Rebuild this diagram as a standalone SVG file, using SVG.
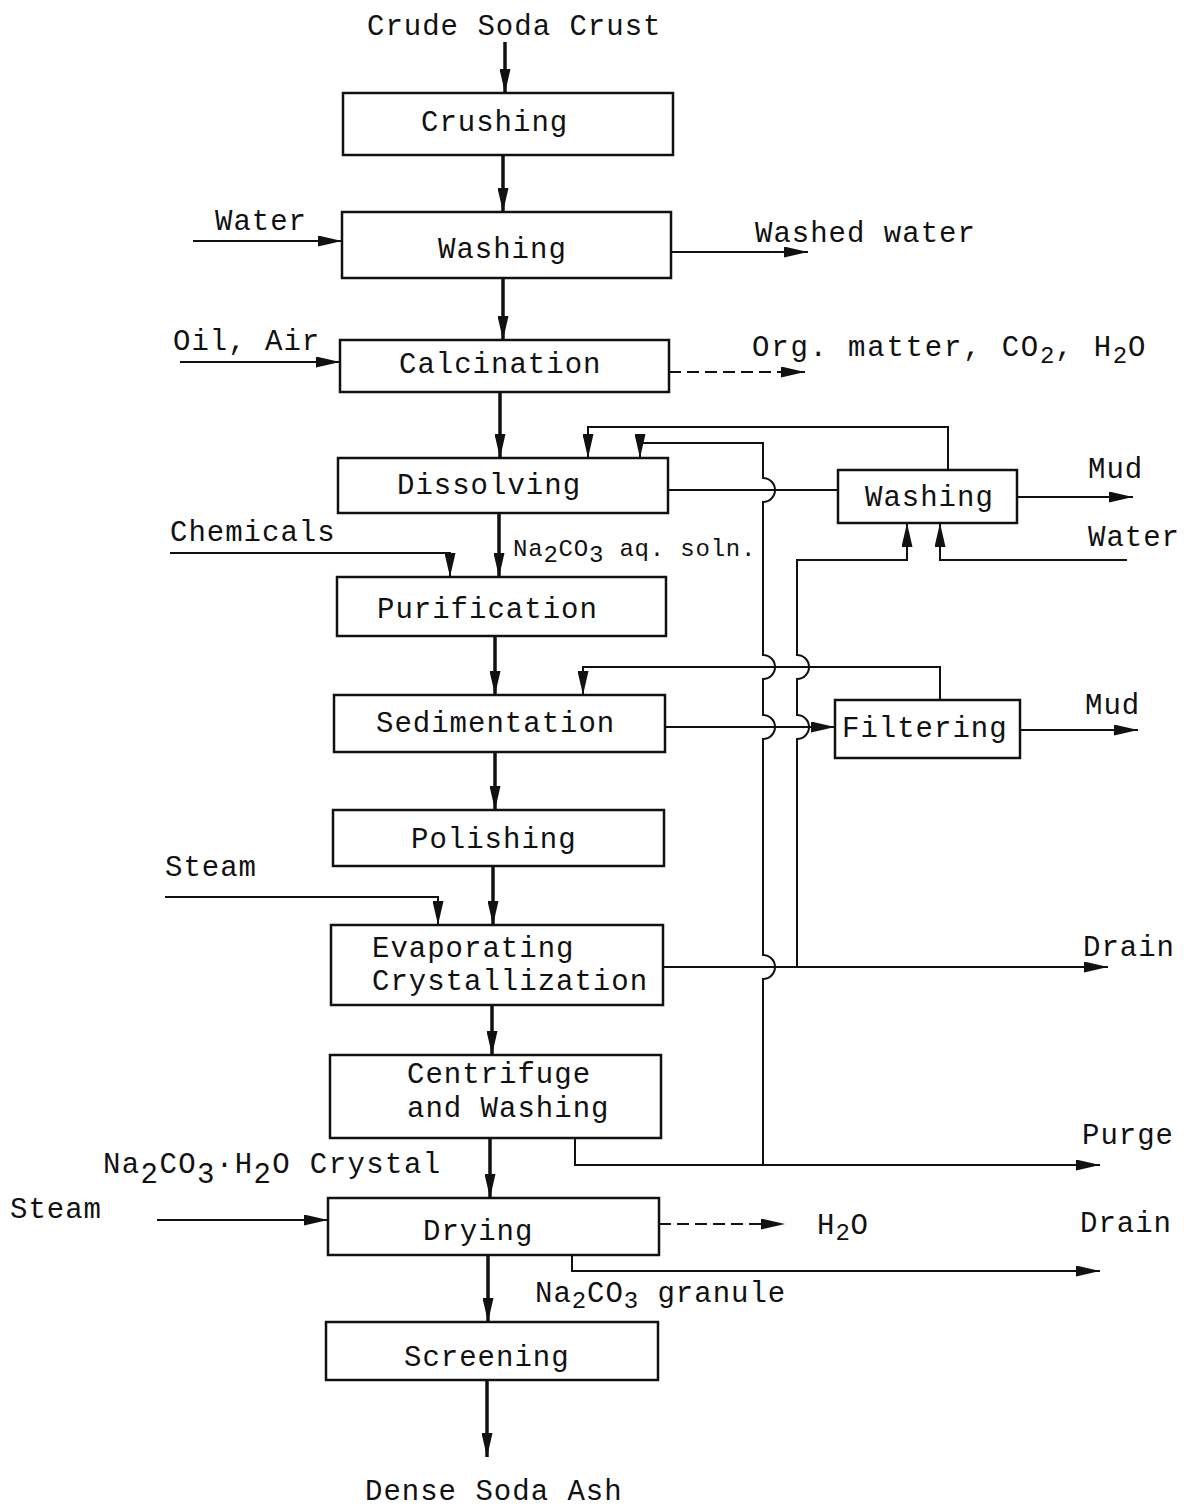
<svg xmlns="http://www.w3.org/2000/svg" width="1189" height="1507" viewBox="0 0 1189 1507">
<defs>
<style>
text{font-family:"Liberation Mono","DejaVu Sans Mono",monospace;font-size:29px;fill:#111;letter-spacing:1px}
.sm{font-size:24px;letter-spacing:0.8px}
.box{fill:#fff;stroke:#111;stroke-width:2.5}
.m{fill:none;stroke:#111;stroke-width:3.5}
.l{fill:none;stroke:#111;stroke-width:2}
.d{fill:none;stroke:#111;stroke-width:2;stroke-dasharray:12 6}
</style>
<marker id="a" viewBox="0 0 24 11" refX="24" refY="5.5" markerWidth="24" markerHeight="11" markerUnits="userSpaceOnUse" orient="auto">
<path d="M0,0 L24,5.5 L0,11 Z" fill="#111"/>
</marker>
</defs>
<rect width="1189" height="1507" fill="#fff"/>

<g id="connectors">
<!-- main flow -->
<path class="m" d="M505,42 V93" marker-end="url(#a)"/>
<path class="m" d="M503,155 V212" marker-end="url(#a)"/>
<path class="m" d="M503,278 V340" marker-end="url(#a)"/>
<path class="m" d="M500,392 V458" marker-end="url(#a)"/>
<path class="m" d="M499,513 V577" marker-end="url(#a)"/>
<path class="m" d="M495,636 V695" marker-end="url(#a)"/>
<path class="m" d="M495,752 V810" marker-end="url(#a)"/>
<path class="m" d="M493,866 V925" marker-end="url(#a)"/>
<path class="m" d="M492,1005 V1055" marker-end="url(#a)"/>
<path class="m" d="M490,1138 V1198" marker-end="url(#a)"/>
<path class="m" d="M488,1255 V1322" marker-end="url(#a)"/>
<path class="m" d="M487,1380 V1457" marker-end="url(#a)"/>
<!-- inputs -->
<path class="l" d="M193,241 H342" marker-end="url(#a)"/>
<path class="l" d="M671,252 H808" marker-end="url(#a)"/>
<path class="l" d="M180,362 H340" marker-end="url(#a)"/>
<path class="d" d="M669,372 H805" marker-end="url(#a)"/>
<path class="l" d="M170,553 H450 V577" marker-end="url(#a)"/>
<path class="l" d="M165,897 H438 V925" marker-end="url(#a)"/>
<path class="l" d="M157,1220 H328" marker-end="url(#a)"/>
<path class="d" d="M659,1224 H785" marker-end="url(#a)"/>
<path class="l" d="M572,1255 V1271 H1100" marker-end="url(#a)"/>
<!-- washing / mud side -->
<path class="l" d="M668,490 H838"/>
<path class="l" d="M1017,497 H1133" marker-end="url(#a)"/>
<path class="l" d="M948,470 V427 H588 V458" marker-end="url(#a)"/>
<path class="l" d="M1127,560 H940 V523" marker-end="url(#a)"/>
<!-- sedimentation / filtering -->
<path class="l" d="M665,727 H835" marker-end="url(#a)"/>
<path class="l" d="M1020,730 H1138" marker-end="url(#a)"/>
<path class="l" d="M940,700 V667 H583 V695" marker-end="url(#a)"/>
<!-- evaporator drain and condensate -->
<path class="l" d="M663,967 H1108" marker-end="url(#a)"/>
<path class="l" d="M797,967 V739 A12,12 0 0 0 797,715 V679 A12,12 0 0 0 797,655 V560 H907 V523" marker-end="url(#a)"/>
<!-- mother liquor recycle and purge -->
<path class="l" d="M575,1138 V1165 H1100" marker-end="url(#a)"/>
<path class="l" d="M763,1165 V979 A12,12 0 0 0 763,955 V739 A12,12 0 0 0 763,715 V679 A12,12 0 0 0 763,655 V502 A12,12 0 0 0 763,478 V443 H640 V458" marker-end="url(#a)"/>
</g>

<g id="crushing"><rect class="box" x="343" y="93" width="330" height="62"/><text x="421" y="131">Crushing</text></g>
<g id="washing1"><rect class="box" x="342" y="212" width="329" height="66"/><text x="438" y="258">Washing</text></g>
<g id="calcination"><rect class="box" x="340" y="340" width="329" height="52"/><text x="399" y="373">Calcination</text></g>
<g id="dissolving"><rect class="box" x="338" y="458" width="330" height="55"/><text x="397" y="494">Dissolving</text></g>
<g id="purification"><rect class="box" x="337" y="577" width="329" height="59"/><text x="377" y="618">Purification</text></g>
<g id="sedimentation"><rect class="box" x="334" y="695" width="331" height="57"/><text x="376" y="732">Sedimentation</text></g>
<g id="polishing"><rect class="box" x="333" y="810" width="331" height="56"/><text x="411" y="848">Polishing</text></g>
<g id="evaporating"><rect class="box" x="331" y="925" width="332" height="80"/><text x="372" y="957">Evaporating</text><text x="372" y="990">Crystallization</text></g>
<g id="centrifuge"><rect class="box" x="330" y="1055" width="331" height="83"/><text x="407" y="1083">Centrifuge</text><text x="407" y="1117">and Washing</text></g>
<g id="drying"><rect class="box" x="328" y="1198" width="331" height="57"/><text x="423" y="1240">Drying</text></g>
<g id="screening"><rect class="box" x="326" y="1322" width="332" height="58"/><text x="404" y="1366">Screening</text></g>
<g id="washing2"><rect class="box" x="838" y="470" width="179" height="53"/><text x="865" y="506">Washing</text></g>
<g id="filtering"><rect class="box" x="835" y="700" width="185" height="58"/><text x="842" y="737">Filtering</text></g>

<g id="labels">
<text x="367" y="35">Crude Soda Crust</text>
<text x="215" y="230">Water</text>
<text x="755" y="242">Washed water</text>
<text x="173" y="350">Oil, Air</text>
<text x="752" y="356" style="letter-spacing:1.8px">Org. matter, CO<tspan class="sm" dy="7">2</tspan><tspan dy="-7">, H</tspan><tspan class="sm" dy="7">2</tspan><tspan dy="-7">O</tspan></text>
<text x="1088" y="478">Mud</text>
<text x="170" y="541">Chemicals</text>
<text class="sm" x="513" y="556">Na<tspan dy="6">2</tspan><tspan dy="-6">CO</tspan><tspan dy="6">3</tspan><tspan dy="-6"> aq. soln.</tspan></text>
<text x="1088" y="546">Water</text>
<text x="1085" y="714">Mud</text>
<text x="165" y="876">Steam</text>
<text x="1083" y="956">Drain</text>
<text x="1082" y="1144">Purge</text>
<text x="103" y="1173" style="letter-spacing:1.4px">Na<tspan dy="10">2</tspan><tspan dy="-10">CO</tspan><tspan dy="10">3</tspan><tspan dy="-10">·H</tspan><tspan dy="10">2</tspan><tspan dy="-10">O Crystal</tspan></text>
<text x="10" y="1218">Steam</text>
<text x="817" y="1234">H<tspan class="sm" dy="6">2</tspan><tspan dy="-6">O</tspan></text>
<text x="1080" y="1232">Drain</text>
<text x="535" y="1302">Na<tspan class="sm" dy="6">2</tspan><tspan dy="-6">CO</tspan><tspan class="sm" dy="6">3</tspan><tspan dy="-6"> granule</tspan></text>
<text x="365" y="1500">Dense Soda Ash</text>
</g>
</svg>
